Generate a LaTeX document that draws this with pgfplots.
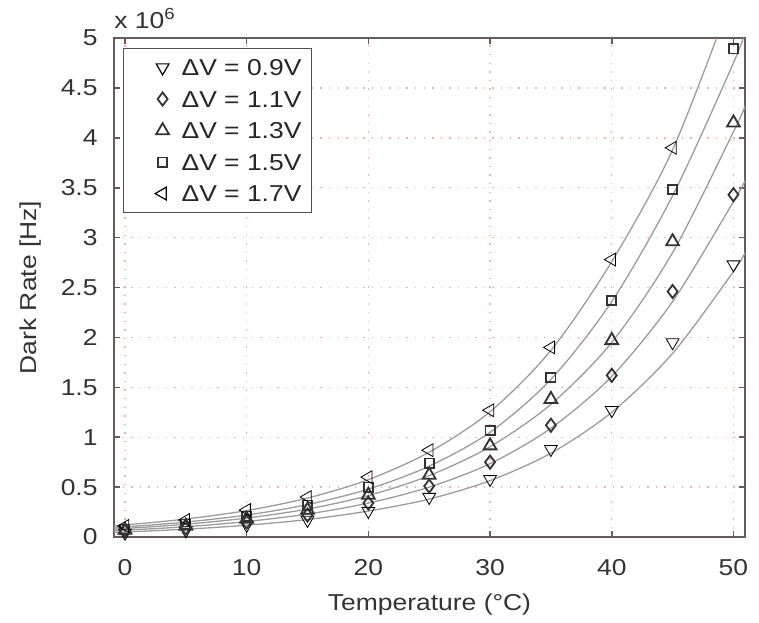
\documentclass[border=0pt]{standalone}
\usepackage{pgfplots}
\pgfplotsset{compat=1.18}
\usepackage{fontspec}
\setmainfont{Liberation Sans}[FakeStretch=1.15]

\definecolor{framecol}{HTML}{6B5A5C}
\definecolor{gridcol}{HTML}{F4B0B0}
\definecolor{markcol}{HTML}{333333}
\definecolor{fitcol}{HTML}{9C9C9C}
\definecolor{legcol}{HTML}{505050}

\begin{document}
\begin{tikzpicture}
\useasboundingbox (-57pt,-42.5pt) rectangle (322.5pt,268.5pt);
\begin{axis}[
    scale only axis,
    width=315.5pt, height=249.5pt,
    xmin=-0.9, xmax=50.95,
    ymin=0, ymax=5,
    xtick={0,10,20,30,40,50},
    ytick={0,0.5,1,1.5,2,2.5,3,3.5,4,4.5,5},
    /pgf/number format/assume math mode=true,
    font=\fontsize{11.5}{13.8}\selectfont,
    tick label style={font=\fontsize{11.5}{13.8}\selectfont, color=black!80},
    xticklabel style={anchor=center, yshift=-15.25pt},
    yticklabel style={anchor=east, xshift=-4.7pt},
    axis line style={framecol, line width=0.8pt},
    tick style={framecol, line width=0.8pt},
    major tick length=3pt,
    grid=major,
    major grid style={gridcol, line width=0.7pt, dash pattern=on 0.7pt off 3.6pt},
    xlabel={Temperature (°C)},
    ylabel={Dark Rate [Hz]},
    xlabel style={at={(axis description cs:0.5,-0.136)}, anchor=center, color=black!80},
    ylabel style={at={(axis description cs:-0.133,0.5)}, anchor=center, color=black!80},
    clip mode=individual,
    legend cell align=left,
    legend image code/.code={%
        \path (0pt,0pt) (24pt,0pt);
        \draw[#1,only marks] plot coordinates {(17.5pt,0pt)};},
    legend style={at={(rel axis cs:0,1)}, anchor=north west, xshift=4.5pt, yshift=-5pt,
        draw=legcol, line width=0.6pt, inner xsep=2pt, inner ysep=1.6pt, row sep=0pt,
        font=\fontsize{11.5}{13.8}\selectfont,
        nodes={inner xsep=3pt, inner ysep=0pt, text height=12pt, text depth=3.75pt, text=black!85}},
    fit/.style={fitcol, line width=0.65pt, smooth, no marks, forget plot},
    pts/.style={draw=none, mark options={draw=markcol, line width=0.9pt, fill=none, solid}},
]

% fitted curves
\addplot[fit] coordinates {(-0.9,0.045)(0,0.05)(5,0.078)(10,0.118)(15,0.175)(20,0.26)(25,0.38)(30,0.565)(35,0.84)(40,1.25)(45,1.84)(50,2.66)(51,2.86)};
\addplot[fit] coordinates {(-0.9,0.062)(0,0.068)(5,0.103)(10,0.155)(15,0.23)(20,0.34)(25,0.50)(30,0.735)(35,1.09)(40,1.61)(45,2.36)(50,3.36)(51,3.58)};
\addplot[fit] coordinates {(-0.9,0.078)(0,0.085)(5,0.128)(10,0.19)(15,0.28)(20,0.415)(25,0.615)(30,0.905)(35,1.33)(40,1.95)(45,2.85)(50,4.06)(51,4.33)};
\addplot[fit] coordinates {(-0.9,0.092)(0,0.10)(5,0.15)(10,0.22)(15,0.325)(20,0.48)(25,0.71)(30,1.05)(35,1.58)(40,2.36)(45,3.42)(50,4.75)(51,5.08)};
\addplot[fit] coordinates {(-0.9,0.11)(0,0.12)(5,0.18)(10,0.265)(15,0.39)(20,0.575)(25,0.85)(30,1.255)(35,1.87)(40,2.76)(45,3.88)(50,5.45)};

% measured dark rate, units of 1e6 Hz
\addplot[pts, mark=triangle, mark size=3.7pt, mark options={rotate=180}]
  coordinates {(0,0.04)(5,0.065)(10,0.12)(15,0.17)(20,0.26)(25,0.40)(30,0.58)(35,0.88)(40,1.27)(45,1.95)(50,2.73)};
\addlegendentry{ΔV = 0.9V}
\addplot[pts, mark=diamond, mark size=3.3pt]
  coordinates {(0,0.06)(5,0.09)(10,0.15)(15,0.22)(20,0.34)(25,0.51)(30,0.75)(35,1.12)(40,1.62)(45,2.46)(50,3.43)};
\addlegendentry{ΔV = 1.1V}
\addplot[pts, mark=triangle, mark size=3.7pt]
  coordinates {(0,0.07)(5,0.11)(10,0.18)(15,0.27)(20,0.42)(25,0.62)(30,0.915)(35,1.38)(40,1.97)(45,2.96)(50,4.15)};
\addlegendentry{ΔV = 1.3V}
\addplot[pts, mark=square, mark size=2.3pt]
  coordinates {(0,0.08)(5,0.13)(10,0.21)(15,0.32)(20,0.50)(25,0.74)(30,1.07)(35,1.60)(40,2.37)(45,3.48)(50,4.89)};
\addlegendentry{ΔV = 1.5V}
\addplot[pts, mark=triangle, mark size=3.7pt, mark options={rotate=90}]
  coordinates {(0,0.11)(5,0.17)(10,0.27)(15,0.40)(20,0.60)(25,0.87)(30,1.27)(35,1.90)(40,2.78)(45,3.90)};
\addlegendentry{ΔV = 1.7V}

\node[anchor=base west, inner sep=0pt, color=black!80, font=\fontsize{11.5}{13.8}\selectfont]
  at (rel axis cs:0,1) [yshift=5pt] {x 10\textsuperscript{6}};
\end{axis}
\end{tikzpicture}
\end{document}
